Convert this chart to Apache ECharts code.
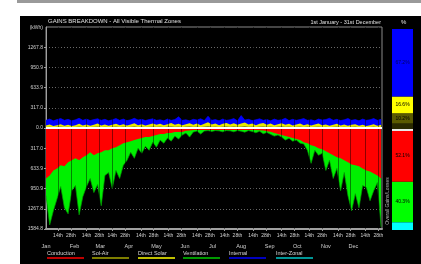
<!DOCTYPE html>
<html><head><meta charset="utf-8">
<script src="https://cdn.jsdelivr.net/npm/echarts@6/dist/echarts.min.js"></script>
<style>
html,body{margin:0;padding:0;background:#fff;overflow:hidden;}
#topbar{position:absolute;left:17px;top:0;width:404px;height:3px;background:#9a9a9a;}
#panel{position:absolute;left:20px;top:16px;width:401px;height:248px;background:#000;}
#c{position:absolute;left:0;top:0;width:421px;height:264px;}
</style>
</head><body>
<div id="topbar"></div><div id="panel"></div><div id="c"></div>
<script>
// ---- data ----
const days = [0,4,8,12,16,20,24,28,32,36,40,44,48,52,56,60,64,68,72,76,80,84,88,92,96,100,104,108,112,116,120,124,128,132,136,140,144,148,152,156,160,164,168,172,176,180,184,188,192,196,200,204,208,212,216,220,224,228,232,236,240,244,248,252,256,260,264,268,272,276,280,284,288,292,296,300,304,308,312,316,320,324,328,332,336,340,344,348,352,356,360,364];
// total losses (conduction + ventilation + inter-zonal), kWh
const totalLoss = [-1062,-1521,-1300,-1109,-919,-1252,-1347,-983,-903,-1363,
 -1078,-919,-792,-1014,-887,-1220,-745,-697,-951,-666,
 -792,-586,-507,-380,-475,-317,-396,-285,-349,-222,
 -301,-190,-238,-158,-206,-127,-174,-111,-79,-143,
 -63,-48,-95,-48,-40,-55,-40,-45,-60,-40,
 -45,-60,-40,-50,-65,-40,-55,-75,-50,-90,
 -70,-100,-127,-110,-143,-190,-160,-206,-190,-238,
 -250,-349,-555,-349,-428,-396,-666,-507,-792,-634,
 -983,-697,-1062,-1300,-1030,-1252,-903,-935,-1141,-983,
 -856,-1553];
// conduction losses, kWh
const conductionLoss = [-792,-745,-666,-634,-586,-602,-539,-507,-475,-507,
 -460,-428,-380,-428,-396,-380,-349,-349,-317,-301,
 -269,-238,-222,-206,-190,-174,-158,-143,-143,-127,
 -111,-95,-95,-79,-79,-63,-63,-63,-45,-40,
 -30,-30,-30,-30,-30,-30,-30,-30,-30,-30,
 -30,-30,-30,-30,-30,-30,-30,-32,-35,-40,
 -50,-60,-79,-95,-111,-127,-143,-158,-174,-190,
 -222,-238,-269,-285,-317,-333,-365,-396,-428,-460,
 -475,-507,-539,-571,-586,-602,-634,-666,-681,-713,
 -745,-792];
// total gains (top of the blue internal band), kWh
const totalGain = [120,140,112,132,148,120,136,112,128,152,
 120,140,116,132,144,120,136,112,128,148,
 120,140,116,128,152,124,136,116,132,144,
 120,128,112,140,120,132,175,120,128,112,
 136,124,144,116,185,120,132,112,140,120,
 128,148,112,195,124,136,116,128,144,120,
 132,112,140,120,128,152,116,136,120,132,
 148,120,128,112,140,124,132,152,120,136,
 116,128,148,120,132,112,140,120,128,148,
 120,136];
// solar gains (top of the yellow direct-solar band), kWh
const solarGain = [40,55,30,45,60,35,50,30,45,65,
 40,55,35,50,70,40,55,35,50,65,
 45,60,40,55,75,45,60,40,55,70,
 50,65,45,60,80,50,65,45,60,75,
 50,70,45,65,90,55,70,45,65,80,
 55,75,50,70,85,55,70,45,65,80,
 50,70,45,60,75,50,65,40,55,70,
 45,60,40,55,70,45,55,35,50,65,
 40,55,35,50,60,35,50,30,45,60,
 35,50];
// sol-air gains (olive band), kWh
const solAirGain = [15,20,12,18,22,14,18,12,16,24,
 15,20,14,18,25,15,20,14,18,24,
 16,22,15,20,26,16,22,15,20,25,
 18,24,16,22,28,18,24,16,22,26,
 18,25,16,23,30,20,25,16,23,28,
 20,26,18,24,30,20,25,16,23,28,
 18,25,16,22,26,18,23,15,20,25,
 16,22,15,20,25,16,20,13,18,23,
 15,20,13,18,22,13,18,12,16,22,
 13,18];

const monthNames = ['Jan','Feb','Mar','Apr','May','Jun','Jul','Aug','Sep','Oct','Nov','Dec'];
const monthStarts = [0,31,59,90,120,151,181,212,243,273,304,334];
const dayTickLabels = ['14th','28th'];
const dayTickOffsets = [13,27];
const yTickValues = [1267.84,950.88,633.92,316.96,0,-316.96,-633.92,-950.88,-1267.84,-1584.8];
const yUnitLabel = '(kWh)';

// overall percentage bar
const overallNames = ['Other','Sol-Air','Direct Solar','Internal','Conduction','Ventilation','Inter-Zonal'];
const overallPct = [6.0,10.2,16.6,67.2,-52.1,-40.3,-7.6];
const overallColors = ['#2a2a00','#5a5a00','#ffff00','#0000ff','#ff0000','#00ff00','#00ffff'];

const legendNames = ['Conduction','Sol-Air','Direct Solar','Ventilation','Internal','Inter-Zonal'];
const legendColors = ['#ff0000','#a8a800','#ffff00','#00cc00','#0000ff','#00c8c8'];

// ---- build ----
const FONT = 'Liberation Sans, Arial, sans-serif';
const tickDays = [], tickMap = {};
monthStarts.forEach(s => dayTickOffsets.forEach((o, i) => { tickDays.push(s + o); tickMap[s + o] = dayTickLabels[i]; }));
const monthMap = {};
monthStarts.forEach((s, i) => monthMap[s] = monthNames[i]);
const pair = arr => days.map((d, i) => [d, arr[i]]);

const chart = echarts.init(document.getElementById('c'), null, {renderer: 'canvas'});
const lineBase = {type: 'line', xAxisIndex: 0, yAxisIndex: 0, symbol: 'none', silent: true, animation: false};

const series = [
  Object.assign({}, lineBase, {name: 'Ventilation', data: pair(totalLoss), lineStyle: {color: '#00a000', width: 0.7}, areaStyle: {color: '#00f000', opacity: 1}, z: 2}),
  Object.assign({}, lineBase, {name: 'Conduction', data: pair(conductionLoss), lineStyle: {width: 0}, areaStyle: {color: '#ff0000', opacity: 1}, z: 3,
    markLine: {silent: true, symbol: 'none', label: {show: false}, lineStyle: {color: 'rgba(0,0,0,0.45)', width: 1, type: 'solid'},
      data: tickDays.map(d => ({xAxis: d}))}}),
  Object.assign({}, lineBase, {name: 'Internal', data: pair(totalGain), lineStyle: {color: '#0000ff', width: 0.7}, areaStyle: {color: '#0000ff', opacity: 1}, z: 2}),
  Object.assign({}, lineBase, {name: 'Direct Solar', data: pair(solarGain), lineStyle: {width: 0}, areaStyle: {color: '#e8e800', opacity: 1}, z: 3}),
  Object.assign({}, lineBase, {name: 'Sol-Air', data: pair(solAirGain), lineStyle: {width: 0}, areaStyle: {color: '#8a8a20', opacity: 1}, z: 4,
    markLine: {silent: true, symbol: 'none', label: {show: false}, lineStyle: {color: '#ffffff', width: 2, type: 'solid'}, data: [{yAxis: 0}]}})
];
overallPct.forEach((v, i) => {
  series.push({type: 'bar', name: overallNames[i] + ' %', xAxisIndex: 2, yAxisIndex: 1, stack: 'all', barWidth: '100%',
    data: [v], itemStyle: {color: overallColors[i]}, silent: true, animation: false,
    label: {show: Math.abs(v) > 9, position: 'inside', formatter: () => Math.abs(v).toFixed(1) + '%', fontSize: 5, fontFamily: FONT, color: i === 3 ? '#000060' : '#000'},
    markLine: i === 0 ? {silent: true, symbol: 'none', label: {show: false}, lineStyle: {color: '#e8e8e8', width: 2, type: 'solid'}, data: [{yAxis: 0}]} : undefined});
});

const graphic = [
  {type: 'text', left: 48, top: 18, style: {text: 'GAINS BREAKDOWN - All Visible Thermal Zones', fill: '#e0e0e0', font: '6px ' + FONT}},
  {type: 'text', right: 40, top: 19, style: {text: '1st January - 31st December', fill: '#e0e0e0', font: '5.5px ' + FONT}},
  {type: 'text', left: 401, top: 19, style: {text: '%', fill: '#e0e0e0', font: '6px ' + FONT}},
  {type: 'text', x: 43, y: 28, style: {text: yUnitLabel, fill: '#d0d0d0', font: '5px ' + FONT, align: 'right', verticalAlign: 'middle'}},
  {type: 'text', x: 388, y: 201, rotation: Math.PI / 2, style: {text: 'Overall Gains/Losses', fill: '#b0b0b0', font: '5px ' + FONT, align: 'center', verticalAlign: 'middle'}}
];
const legX = [47, 92, 138, 183, 229, 276];
legendNames.forEach((n, i) => {
  graphic.push({type: 'text', x: legX[i], y: 253, style: {text: n, fill: '#d8d8d8', font: '5.5px ' + FONT, verticalAlign: 'middle'}});
  graphic.push({type: 'line', shape: {x1: legX[i], y1: 258, x2: legX[i] + 37, y2: 258}, style: {stroke: legendColors[i], lineWidth: 1.5}});
});

chart.setOption({
  animation: false,
  backgroundColor: 'transparent',
  textStyle: {fontFamily: FONT},
  grid: [
    {left: 46, top: 27, width: 336, height: 202, show: true, borderColor: '#8a8a8a', borderWidth: 1, backgroundColor: 'transparent'},
    {left: 392, top: 29, width: 21, height: 201}
  ],
  xAxis: [
    {type: 'value', gridIndex: 0, min: 0, max: 365, position: 'bottom',
      axisLine: {show: true, onZero: false, lineStyle: {color: '#a0a0a0', width: 2}},
      axisTick: {show: true, customValues: tickDays, length: 2, lineStyle: {color: '#a0a0a0'}},
      axisLabel: {show: true, customValues: tickDays, formatter: v => tickMap[Math.round(v)] || '', color: '#d0d0d0', fontSize: 5, margin: 4},
      splitLine: {show: false}},
    {type: 'value', gridIndex: 0, min: 0, max: 365, position: 'bottom', offset: 10,
      axisLine: {show: false}, axisTick: {show: false}, splitLine: {show: false},
      axisLabel: {show: true, customValues: monthStarts, formatter: v => monthMap[Math.round(v)] || '', color: '#d0d0d0', fontSize: 5.5, margin: 4}},
    {type: 'category', gridIndex: 1, data: ['%'], show: false}
  ],
  yAxis: [
    {type: 'value', gridIndex: 0, min: -1584.8, max: 1584.8, interval: 158.48,
      axisLine: {show: true, onZero: false, lineStyle: {color: '#a0a0a0'}},
      axisTick: {show: true, customValues: yTickValues, length: 2, lineStyle: {color: '#a0a0a0'}},
      axisLabel: {show: true, customValues: yTickValues, formatter: v => Math.abs(v).toFixed(1), color: '#d0d0d0', fontSize: 5, margin: 3},
      splitLine: {show: true, lineStyle: {color: '#6a6a6a', width: 1, type: [1, 2]}}},
    {type: 'value', gridIndex: 1, min: -100, max: 100, show: false, splitLine: {show: false}}
  ],
  series: series,
  graphic: graphic
});
</script>
</body></html>
